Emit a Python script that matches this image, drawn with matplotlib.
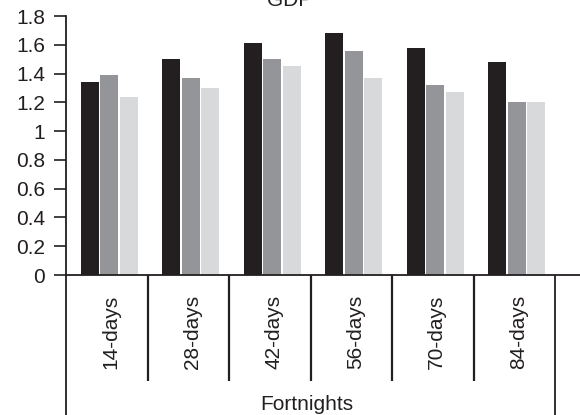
import matplotlib
matplotlib.use("Agg")
import matplotlib.pyplot as plt
import matplotlib.transforms as mtransforms
import numpy as np

plt.rcParams['font.family'] = ['Liberation Sans', 'DejaVu Sans']

categories = ["14-days", "28-days", "42-days", "56-days", "70-days", "84-days"]
series_a = [1.34, 1.50, 1.61, 1.68, 1.58, 1.48]
series_b = [1.39, 1.37, 1.50, 1.56, 1.32, 1.20]
series_c = [1.24, 1.30, 1.45, 1.37, 1.27, 1.20]
yticks = [0, 0.2, 0.4, 0.6, 0.8, 1, 1.2, 1.4, 1.6, 1.8]
ytick_labels = ["0", "0.2", "0.4", "0.6", "0.8", "1", "1.2", "1.4", "1.6", "1.8"]
colors = ["#231f20", "#939598", "#d8d9db"]

W, H = 580, 415
FS = 15
fig = plt.figure(figsize=(W / 100, H / 100), dpi=100)
ax = fig.add_axes([66 / W, 1 - 275 / H, (W - 66) / W, (275 - 16) / H])

x = np.arange(len(categories)) + 0.03
step = 0.24
width = 0.22
for k, (vals, c) in enumerate(zip([series_a, series_b, series_c], colors)):
    ax.bar(x + (k - 1) * step, vals, width=width, color=c, edgecolor="none")

ax.set_xlim(-0.5, -0.5 + (W - 66) / 81.5)
ax.set_ylim(0, 1.8)
ax.set_yticks(yticks)
ax.set_yticklabels(ytick_labels)
ax.tick_params(axis="y", length=9, width=1.2, pad=6, labelsize=FS, colors="#231f20")
ax.tick_params(axis="x", bottom=False, labelbottom=False)
for s in ["top", "right"]:
    ax.spines[s].set_visible(False)
for s in ["left", "bottom"]:
    ax.spines[s].set_linewidth(1.3)
    ax.spines[s].set_color("#231f20")

# category block below the axis: dividers, rotated labels and group caption
trans = mtransforms.blended_transform_factory(ax.transData, fig.transFigure)
y0 = 1 - 275 / H
y_short = 1 - 381 / H
for b in np.arange(0.5, len(categories) - 0.5, 1.0):
    ax.plot([b, b], [y0, y_short], transform=trans, color="#231f20", lw=1.6,
            clip_on=False, solid_capstyle="butt")
for b in [-0.5, len(categories) - 0.5]:
    ax.plot([b, b], [y0, 0], transform=trans, color="#231f20", lw=1.3,
            clip_on=False, solid_capstyle="butt")
for xi, lab in zip(x, categories):
    ax.text(xi + 0.02, 1 - 295 / H, lab, transform=trans, rotation=90,
            ha="center", va="top", fontsize=FS, color="#231f20")
fig.text(307 / W, 1 - 410 / H, "Fortnights", ha="center", va="baseline",
         fontsize=FS, color="#231f20")
fig.text(290 / W, 1 - 6 / H, "GDP", ha="center", va="baseline",
         fontsize=FS, color="#231f20")

fig.savefig("out.png", dpi=100)
